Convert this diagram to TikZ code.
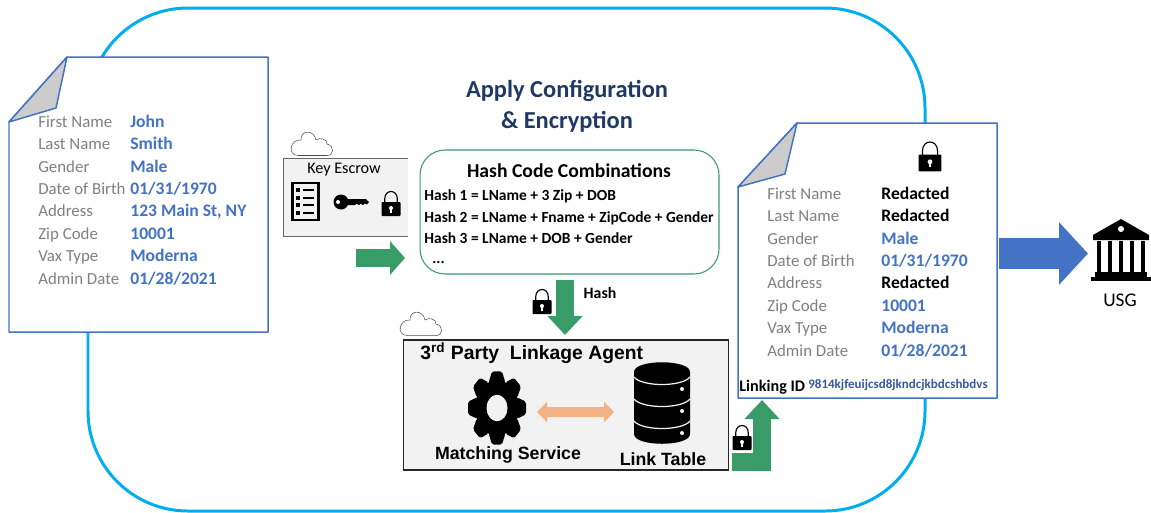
\documentclass[tikz,border=0pt]{standalone}
\usepackage{fontspec}
\setmainfont{Carlito}
\newfontfamily\agentfont{Liberation Sans}
\usetikzlibrary{arrows.meta}

\definecolor{docblue}{HTML}{4472C4}
\definecolor{ringblue}{HTML}{00AEEF}
\definecolor{arrowgreen}{HTML}{389B68}
\definecolor{boxgray}{HTML}{F2F2F2}
\definecolor{peach}{HTML}{F4B183}
\definecolor{titleblue}{HTML}{1F3864}

\tikzset{
    fieldname/.style={anchor=west, inner sep=0pt, text height=8pt, text depth=2pt, text=gray, font=\fontsize{9.6}{11}\selectfont},
    fieldvalue/.style={anchor=west, inner sep=0pt, text height=8pt, text depth=2pt, text=docblue, font=\fontsize{10}{11}\selectfont\bfseries},
    hashline/.style={anchor=west, inner sep=0pt, text height=8pt, text depth=2pt, font=\fontsize{8.8}{11}\selectfont\bfseries},
    agenttext/.style={inner sep=0pt, font=\agentfont\fontsize{10.1}{12}\selectfont\bfseries},
    bigtitle/.style={inner sep=0pt, text=titleblue, font=\fontsize{13.9}{17}\selectfont\bfseries},
    doc/.style={draw=docblue, fill=white, line width=0.85pt, line join=round},
    fold/.style={draw=docblue, fill=black!20, line width=0.85pt, line join=round},
    greenarrow/.style={draw=arrowgreen, line width=0.36cm, -{Triangle[length=0.38cm,width=0.68cm]}},
    pics/lockicon/.style={code={
        \draw[black, line width=0.65pt] (-6.3,-1) -- (-6.3,-5) .. controls (-6.3,-15) and (6.3,-15) .. (6.3,-5) -- (6.3,-1);
        \fill[black, rounded corners=0.5pt] (-9.5,-2) rectangle (9.5,12);
        \fill[white] (0,4) circle (2);
        \fill[white] (-0.8,4) rectangle (0.8,8.5);
    }},
    pics/cloudicon/.style={code={
        \draw[black!70, line width=0.3pt, fill=white] (-14,12.5) -- (15,12.5) .. controls (22,12.5) and (23,3) .. (15,1) .. controls (16,-4) and (7,-6) .. (4,-3) .. controls (2,-14) and (-12,-13) .. (-11,-3) .. controls (-22,-4) and (-25,12) .. (-14,12.5) -- cycle;
    }},
    pics/gearicon/.style={code={
        \begin{scope}[yscale=1.26]
            \fill[black] (0,0) circle (22);
            \foreach \a in {0,45,...,315} \fill[black, rotate=\a, rounded corners=1pt] (-8.5,-20) -- (-5,-29) -- (5,-29) -- (8.5,-20) -- cycle;
            \fill[boxgray] (0,0) circle (10.5);
        \end{scope}
    }},
    pics/dbicon/.style={code={
        \fill[black] (-28,-31) -- (-28,31) .. controls (-28,44) and (28,44) .. (28,31) -- (28,-31) .. controls (28,-44) and (-28,-44) .. (-28,-31) -- cycle;
        \foreach \y in {-26,-4,18} {
            \draw[boxgray, line width=0.7pt] (-28,\y) .. controls (-20,{\y+10}) and (20,{\y+10}) .. (28,\y);
            \fill[boxgray] (20,{\y+12}) circle (2);
        }
    }},
    pics/bankicon/.style={code={
        \fill[black] (0,-31) -- (28,-15) -- (28,-10) -- (-28,-10) -- (-28,-15) -- cycle;
        \fill[white] (0,-21) circle (3);
        \foreach \x in {-22,-11,0,11,22} \fill[black] ({\x-2.4},-9) rectangle ({\x+2.4},22);
        \fill[black] (-26,22) rectangle (26,27);
        \fill[black] (-30,27) rectangle (30,31);
    }},
    pics/keyicon/.style={code={
        \fill[black] (0,0) circle (7.5);
        \fill[black] (0,-3) -- (25,-3) -- (28,0) -- (26,2.4) -- (23.5,1.6) -- (22,3.2) -- (19.5,1.6) -- (18,3.2) -- (15.5,1.6) -- (14,3.2) -- (0,3.2) -- cycle;
        \fill[white] (-3,0) circle (2);
    }},
}

\begin{document}
\begin{tikzpicture}[x=0.02cm, y=-0.02cm]
    \useasboundingbox (0,0) rectangle (1151,512);

    % big ring behind everything
    \draw[ringblue, line width=1.7pt, rounded corners=2cm] (88,8) rectangle (925,511);

    % source document
    \draw[doc] (67,57) -- (268,57) -- (268,332) -- (9,332) -- (9,122) -- cycle;
    \draw[fold] (67,57) -- (56,108) -- (9,122) -- cycle;
    \foreach \lab/\val [count=\i] in {First Name/John, Last Name/Smith, Gender/Male, Date of Birth/01\slash 31\slash 1970, Address/{123 Main St, NY}, Zip Code/10001, Vax Type/Moderna, Admin Date/01\slash 28\slash 2021} {
        \node[fieldname] (srcname\i) at (38,{122+22.4*(\i-1)}) {\lab};
        \node[fieldvalue] (srcval\i) at (130,{122+22.4*(\i-1)}) {\val};
    }

    \node[bigtitle] (applytitle) at (567,91) {Apply Configuration};
    \node[bigtitle] (enctitle) at (567,122) {\&~Encryption};

    % key escrow
    \pic at (312,143) {cloudicon};
    \node[fill=boxgray, minimum width=2.48cm, minimum height=1.54cm, inner sep=0pt] (keybox) at (346,197.5) {};
    \draw[black!60, line width=0.6pt] (keybox.north east) -- (keybox.north west) -- (keybox.south west) -- (keybox.south east);
    \node[inner sep=0pt, font=\fontsize{9.2}{10}\selectfont] (keytitle) at (344,170) {Key Escrow};
    \draw[black, line width=1.4pt, fill=boxgray] (292.5,183) rectangle (318.5,220);
    \foreach \y in {190,198,205,213} {
        \fill[black] (296,{\y-1.7}) rectangle (300,{\y+1.7});
        \draw[black, line width=0.6pt] (303,\y) -- (314,\y);
    }
    \pic at (341,202) {keyicon};
    \pic at (391,204) {lockicon};

    % hash box
    \node[draw=arrowgreen, fill=white, line width=0.6pt, rounded corners=0.5cm, minimum width=5.98cm, minimum height=2.48cm] (hashbox) at (569.5,212) {};
    \node[inner sep=0pt, font=\fontsize{11.2}{13}\selectfont\bfseries] (hashtitle) at (569,171) {Hash Code Combinations};
    \node[hashline] (hash1) at (424,195) {Hash 1 = LName + 3 Zip + DOB};
    \node[hashline] (hash2) at (424,217) {Hash 2 = LName + Fname + ZipCode + Gender};
    \node[hashline] (hash3) at (424,238) {Hash 3 = LName + DOB + Gender};
    \node[hashline] (hash4) at (432,258) {...};

    \coordinate (keytail) at (356,258);
    \coordinate (keytip) at (405,258);
    \draw[greenarrow, -{Triangle[length=0.3cm,width=0.66cm]}] (keytail) -- (keytip);

    \coordinate (hashtail) at (565,280);
    \coordinate (hashtip) at (565,335);
    \draw[greenarrow] (hashtail) -- (hashtip);
    \pic at (542,302) {lockicon};
    \node[inner sep=0pt, font=\fontsize{9}{10}\selectfont\bfseries] (hashlabel) at (600,293) {Hash};

    % linkage agent
    \pic at (421,323) {cloudicon};
    \node[draw=black!85, fill=boxgray, line width=1pt, minimum width=6.5cm, minimum height=2.6cm, inner sep=0pt] (agentbox) at (566,405) {};
    \node[agenttext, anchor=west, font=\agentfont\fontsize{11}{13}\selectfont\bfseries] (agenttitle) at (420,353) {3\textsuperscript{rd} Party~~Linkage Agent};
    \pic at (497,408) {gearicon};
    \pic at (662,403) {dbicon};
    \node[agenttext] (matching) at (508,455) {Matching Service};
    \node[agenttext] (linktable) at (663,459) {Link Table};
    \coordinate (gearend) at (537,412);
    \coordinate (dbend) at (614,412);
    \draw[peach, line width=0.2cm, {Triangle[length=0.2cm,width=0.4cm]}-{Triangle[length=0.2cm,width=0.4cm]}] (gearend) -- (dbend);

    % redacted document
    \draw[doc] (797,123) -- (997,123) -- (997,398) -- (738,398) -- (738,187) -- cycle;
    \draw[fold] (797,123) -- (785,174) -- (738,187) -- cycle;
    \pic[scale=1.2] at (930,157) {lockicon};
    \foreach \lab/\val/\kind [count=\i] in {First Name/Redacted/black, Last Name/Redacted/black, Gender/Male/docblue, Date of Birth/01\slash 31\slash 1970/docblue, Address/Redacted/black, Zip Code/10001/docblue, Vax Type/Moderna/docblue, Admin Date/01\slash 28\slash 2021/docblue} {
        \node[fieldname] (outname\i) at (767,{194+22.4*(\i-1)}) {\lab};
        \node[fieldvalue, text=\kind] (outval\i) at (881,{194+22.4*(\i-1)}) {\val};
    }
    \node[anchor=west, inner sep=0pt, font=\fontsize{9.2}{11}\selectfont\bfseries] (linkid) at (739,387) {Linking ID};
    \node[anchor=west, inner sep=0pt, text=docblue!80!black, font=\fontsize{7.4}{9}\selectfont\bfseries] (linkcode) at (808,385) {9814kjfeuijcsd8jkndcjkbdcshbdvs};

    \coordinate (agentout) at (732,462);
    \coordinate (outdoc) at (762,400);
    \draw[greenarrow, line join=miter] (agentout) -| (outdoc);
    \pic at (742,438) {lockicon};

    % to the bank
    \coordinate (usgtail) at (999,253.5);
    \coordinate (usgtip) at (1088,253.5);
    \draw[docblue, line width=0.62cm, -{Triangle[length=0.58cm,width=1.22cm]}] (usgtail) -- (usgtip);
    \pic at (1121,250) {bankicon};
    \node[inner sep=0pt, font=\fontsize{11}{13}\selectfont] (usg) at (1120,300) {USG};

\end{tikzpicture}
\end{document}
